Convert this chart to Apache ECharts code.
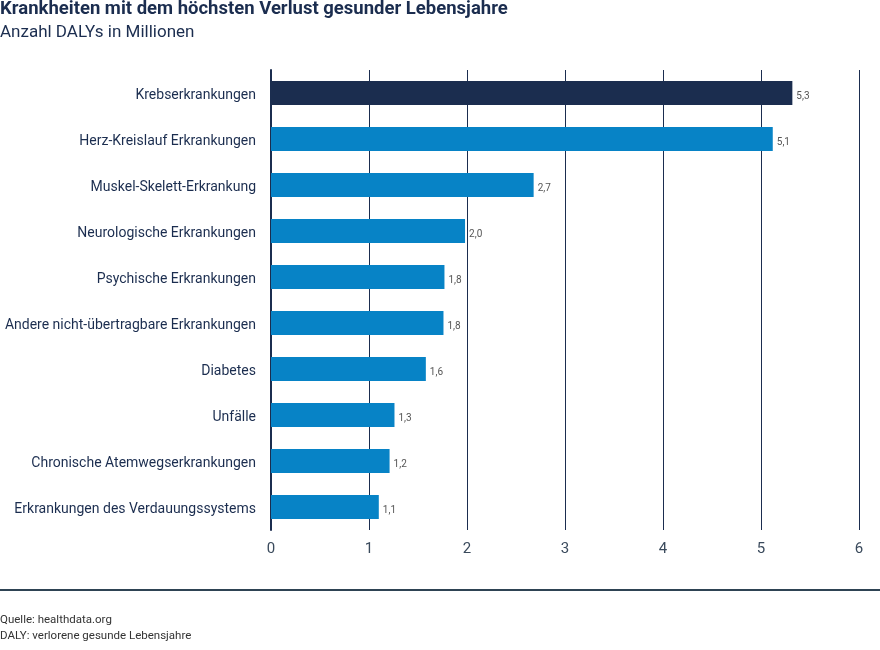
<!DOCTYPE html>
<html><head><meta charset="utf-8">
<script src="https://cdn.jsdelivr.net/npm/echarts@6/dist/echarts.min.js"></script>
<style>html,body{margin:0;padding:0;background:#fff}#c{width:880px;height:650px}</style>
</head><body><div id="c"></div>
<script>
const categories = ["Krebserkrankungen","Herz-Kreislauf Erkrankungen","Muskel-Skelett-Erkrankung","Neurologische Erkrankungen","Psychische Erkrankungen","Andere nicht-übertragbare Erkrankungen","Diabetes","Unfälle","Chronische Atemwegserkrankungen","Erkrankungen des Verdauungssystems"];
const values = [5.32,5.12,2.68,1.98,1.77,1.76,1.58,1.26,1.21,1.10];
const highlightIndex = 0;
const xTicks = [0,1,2,3,4,5,6];

const FONT = "Roboto";
const chart = echarts.init(document.getElementById('c'), null, {renderer:'canvas'});
chart.setOption({
  animation:false,
  textStyle:{fontFamily:FONT},
  title:[
    {text:"Krankheiten mit dem höchsten Verlust gesunder Lebensjahre", left:0, top:0, padding:0,
     textStyle:{fontFamily:FONT, fontSize:18.5, fontWeight:'bold', color:'#1b2d4f'}},
    {text:"Anzahl DALYs in Millionen", left:0, top:24, padding:0,
     textStyle:{fontFamily:FONT, fontSize:17, fontWeight:'normal', color:'#1b2d4f'}},
    {text:"Quelle: healthdata.org\nDALY: verlorene gesunde Lebensjahre", left:0, top:612, padding:0,
     textStyle:{fontFamily:FONT, fontSize:11.5, fontWeight:'normal', color:'#333', lineHeight:16}}
  ],
  graphic:[{type:'line', shape:{x1:0,y1:590,x2:880,y2:590}, style:{stroke:'#2e4353', lineWidth:2}}],
  grid:{left:271, right:21, top:70, bottom:120, containLabel:false},
  xAxis:{type:'value', min:0, max:6, interval:1,
    axisLine:{show:false}, axisTick:{show:false},
    splitLine:{show:true, lineStyle:{color:'#1b2d4f', width:1}},
    axisLabel:{fontFamily:FONT, fontSize:15, color:'#3a4a5c', margin:12, formatter:v=>xTicks.includes(v)?String(v):''}
  },
  yAxis:{type:'category', data:categories, inverse:true,
    axisLine:{show:true, lineStyle:{color:'#1b2d4f', width:2}}, axisTick:{show:false},
    axisLabel:{margin:15, formatter:v=>'{a|'+v+'}',
      rich:{a:{fontFamily:FONT, fontSize:14, color:'#1b2d4f', padding:[5,0,0,0]}}}
  },
  series:[{type:'bar', barWidth:24,
    data:values.map((v,i)=>({value:v, itemStyle:{color: i===highlightIndex?'#1b2d4f':'#0783c6'}})),
    label:{show:true, position:'right', distance:4,
      formatter:p=>'{b|'+p.value.toFixed(1).replace('.',',')+'}',
      rich:{b:{fontFamily:FONT, fontSize:10, color:'#555', padding:[6,0,0,0]}}}
  }]
});
</script></body></html>
